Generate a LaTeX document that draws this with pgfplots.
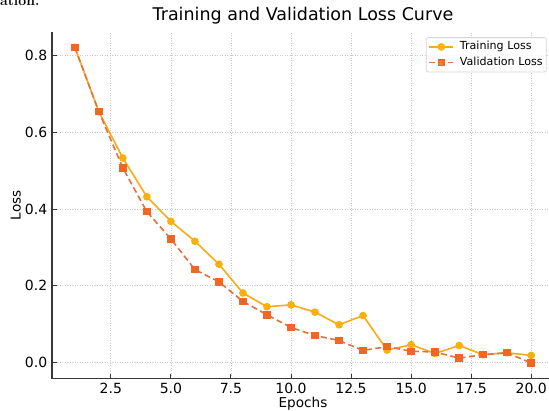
\documentclass[border=0pt]{standalone}
\usepackage{pgfplots}
\pgfplotsset{compat=1.18}
\usepackage{fontspec}
\newfontfamily\dejavu{DejaVu Sans}
\definecolor{trainc}{RGB}{245,172,22}
\definecolor{trainm}{RGB}{250,176,12}
\definecolor{valc}{RGB}{226,112,66}
\definecolor{valm}{RGB}{240,102,34}
\definecolor{spine}{RGB}{55,55,55}
\definecolor{gridc}{RGB}{200,200,200}
\definecolor{legc}{RGB}{215,215,215}
\begin{document}
\begin{tikzpicture}[x=1bp,y=1bp]
\path[use as bounding box, clip] (0,0) rectangle (549,410);
\node[anchor=base west,inner sep=0pt,font=\fontsize{14bp}{14bp}\selectfont\bfseries] at (0,404) {ation.};
\begin{axis}[
  at={(52bp,31.1bp)}, anchor=south west,
  scale only axis, width=502bp, height=347.4bp,
  xmin=0.05, xmax=20.95, ymin=-0.0432, ymax=0.8632,
  axis x line*=bottom, axis y line*=left,
  axis line style={-, draw=spine, line width=1.1bp},
  tick align=inside, major tick length=5bp,
  tick style={draw=spine, line width=0.9bp},
  xtick={2.5,5,7.5,10,12.5,15,17.5,20},
  ytick={0,0.2,0.4,0.6,0.8},
  grid=major,
  grid style={draw=gridc, line width=0.7bp, dash pattern=on 1.2bp off 1.3bp},
  /pgf/number format/assume math mode=true,
  xticklabel style={font=\dejavu\fontsize{14bp}{14bp}\selectfont, inner sep=0pt, /pgf/number format/.cd, fixed, fixed zerofill, precision=1},
  yticklabel style={font=\dejavu\fontsize{14bp}{14bp}\selectfont, inner sep=0pt, /pgf/number format/.cd, fixed, fixed zerofill, precision=1},
  xticklabel shift=4.4bp, yticklabel shift=4.6bp,
  xlabel={Epochs}, ylabel={Loss},
  xlabel style={font=\dejavu\fontsize{13.6bp}{13.6bp}\selectfont, inner sep=0pt, at={(axis description cs:0.5,-0.0832)}, anchor=base},
  ylabel style={font=\dejavu\fontsize{13.6bp}{13.6bp}\selectfont, inner sep=0pt, at={(axis description cs:-0.0627,0.5)}, anchor=base},
  title={Training and Validation Loss Curve},
  title style={font=\dejavu\fontsize{17.5bp}{17.5bp}\selectfont, inner sep=0pt, at={(axis description cs:0.5,1)}, anchor=base, yshift=4.9bp},
  legend style={at={(0.9855,0.9836)}, anchor=north east, draw=legc, line width=0.8bp, rounded corners=2bp, fill=white, fill opacity=0.8, text opacity=1, draw opacity=1,
    font=\dejavu\fontsize{11.1bp}{11.1bp}\selectfont, inner xsep=2.2bp, inner ysep=2.3bp, row sep=1.6bp, column sep=4.3bp,
    nodes={inner sep=1.5bp, text height=8.5bp, text depth=2.6bp}},
  legend cell align=left,
  legend image code/.code={\draw[mark repeat=2,mark phase=2,#1] plot coordinates {(0bp,0bp)(12bp,0bp)(24bp,0bp)};},
]
\addplot[color=trainc, line width=1.6bp, mark=*, mark size=3bp, mark options={solid, fill=trainm, draw=trainm}]
coordinates {(1,0.822)(2,0.654)(3,0.533)(4,0.432)(5,0.368)(6,0.316)(7,0.256)(8,0.181)(9,0.145)(10,0.150)(11,0.131)(12,0.098)(13,0.122)(14,0.032)(15,0.046)(16,0.023)(17,0.044)(18,0.020)(19,0.025)(20,0.018)};
\addlegendentry{Training Loss}
\addplot[color=valc, line width=1.6bp, dash pattern=on 6bp off 3.5bp, mark=square*, mark size=2.9bp, mark options={solid, fill=valm, draw=valm}]
coordinates {(1,0.822)(2,0.654)(3,0.507)(4,0.393)(5,0.322)(6,0.242)(7,0.210)(8,0.159)(9,0.124)(10,0.091)(11,0.070)(12,0.057)(13,0.031)(14,0.041)(15,0.029)(16,0.027)(17,0.011)(18,0.020)(19,0.025)(20,-0.002)};
\addlegendentry{Validation Loss}
\end{axis}
\end{tikzpicture}
\end{document}
